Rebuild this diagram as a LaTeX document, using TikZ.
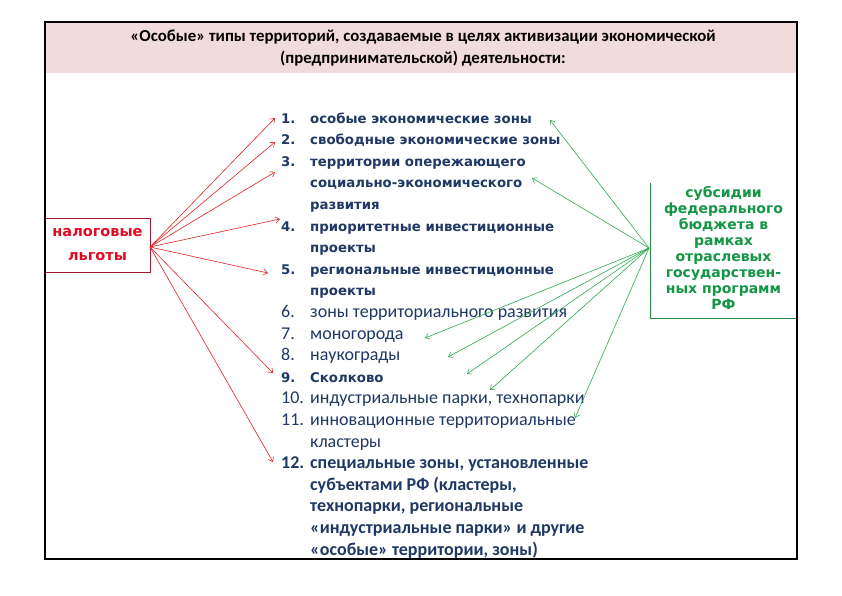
\documentclass[tikz,border=0pt]{standalone}
\usepackage{fontspec}
\setmainfont{Carlito}
\newfontfamily\dvs{DejaVu Sans}
\usetikzlibrary{arrows.meta}
\definecolor{navy}{RGB}{31,56,100}
\definecolor{redtxt}{RGB}{225,10,35}
\definecolor{redln}{RGB}{225,35,35}
\definecolor{redbox}{RGB}{165,25,45}
\definecolor{grtxt}{RGB}{20,150,70}
\definecolor{grln}{RGB}{45,170,80}
\definecolor{pinkbg}{RGB}{242,220,219}
\begin{document}
\begin{tikzpicture}[x=1pt,y=-1pt,
  itm/.style={anchor=base west, inner sep=0pt, text=navy},
  bt/.style={itm, font=\dvs\bfseries\fontsize{13.3}{16}\selectfont},
  rg/.style={itm, font=\fontsize{18}{22}\selectfont},
  cb/.style={itm, font=\bfseries\fontsize{18}{22}\selectfont},
  rarr/.style={draw=redln, line width=0.6pt, -{Straight Barb[length=4pt,width=6pt]}},
  garr/.style={draw=grln, line width=0.6pt, -{Straight Barb[length=4pt,width=6pt]}}]
\useasboundingbox (0,0) rectangle (842,595);
\fill[white] (0,0) rectangle (842,595);
\fill[pinkbg] (45,22) rectangle (797,73);
\node[font=\bfseries\fontsize{16.8}{22}\selectfont, align=center, inner sep=0pt] (title) at (423,48)
  {«Особые» типы территорий, создаваемые в целях активизации экономической\\(предпринимательской) деятельности:};

% list
\node[bt] (n1) at (281,123) {1.};   \node[bt] (t1) at (310,123) {особые экономические зоны};
\node[bt] (n2) at (281,144.6) {2.}; \node[bt] (t2) at (310,144.6) {свободные экономические зоны};
\node[bt] (n3) at (281,166.2) {3.}; \node[bt] (t3) at (310,166.2) {территории опережающего};
\node[bt] (t3b) at (310,187.8) {социально-экономического};
\node[bt] (t3c) at (310,209.4) {развития};
\node[bt] (n4) at (281,231) {4.};   \node[bt] (t4) at (310,231) {приоритетные инвестиционные};
\node[bt] (t4b) at (310,252.6) {проекты};
\node[bt] (n5) at (281,274.2) {5.}; \node[bt] (t5) at (310,274.2) {региональные инвестиционные};
\node[bt] (t5b) at (310,295.8) {проекты};
\node[rg] (n6) at (281,317.4) {6.}; \node[rg] (t6) at (310,317.4) {зоны территориального развития};
\node[rg] (n7) at (281,339) {7.};   \node[rg] (t7) at (310,339) {моногорода};
\node[rg] (n8) at (281,360.6) {8.}; \node[rg] (t8) at (310,360.6) {наукограды};
\node[bt] (n9) at (281,382.2) {9.}; \node[bt] (t9) at (310,382.2) {Сколково};
\node[rg] (n10) at (281,403.8) {10.}; \node[rg] (t10) at (310,403.8) {индустриальные парки, технопарки};
\node[rg] (n11) at (281,425.4) {11.}; \node[rg] (t11) at (310,425.4) {инновационные территориальные};
\node[rg] (t11b) at (310,447) {кластеры};
\node[cb] (n12) at (281,468.6) {12.}; \node[cb] (t12) at (310,468.6) {специальные зоны, установленные};
\node[cb] (t12b) at (310,490.2) {субъектами РФ (кластеры,};
\node[cb] (t12c) at (310,511.8) {технопарки, региональные};
\node[cb] (t12d) at (310,533.4) {«индустриальные парки» и другие};
\node[cb] (t12e) at (310,555) {«особые» территории, зоны)};

% left box
\node[draw=redbox, line width=0.8pt, minimum width=105pt, minimum height=54pt, inner sep=0pt,
  align=center, text=redtxt, font=\dvs\bfseries\fontsize{14.5}{24}\selectfont] (nal) at (97.5,245)
  {налоговые\\льготы};

% right box
\node[minimum width=147pt, minimum height=135pt, inner sep=0pt, align=center, text=grtxt,
  font=\dvs\bfseries\fontsize{14}{16}\selectfont] (sub) at (723.5,248)
  {субсидии\\федерального\\бюджета в\\рамках\\отраслевых\\государствен-\\ных программ\\РФ};
\coordinate (sbl) at (650,318);
\coordinate (stl) at (650,183);
\coordinate (sbr) at (797,318);
\draw[grln!80!black, line width=0.8pt] (stl) -- (sbl) -- (sbr);

% arrow endpoints
\coordinate (rs) at (150,247);
\coordinate (gs) at (649,248);
\coordinate (r1) at (275,118);
\coordinate (r2) at (275,142);
\coordinate (r3) at (275,172);
\coordinate (r4) at (280,219);
\coordinate (r5) at (268,273);
\coordinate (r9) at (273,373);
\coordinate (r12) at (273,462);
\coordinate (g1) at (550,120);
\coordinate (g3) at (532,178);
\coordinate (g6) at (425,338);
\coordinate (g7) at (448,357);
\coordinate (g8) at (467,374);
\coordinate (g10) at (490,390);
\coordinate (g11) at (575,418);

\foreach \t in {r1,r2,r3,r4,r5,r9,r12} \draw[rarr] (rs) -- (\t);
\foreach \t in {g1,g3,g6,g7,g8,g10,g11} \draw[garr] (gs) -- (\t);

% outer frame
\draw[black, line width=1.3pt] (45,22) rectangle (797,559);
\end{tikzpicture}
\end{document}
